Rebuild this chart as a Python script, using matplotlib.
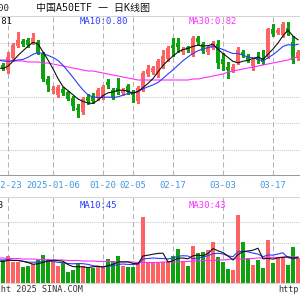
import matplotlib
matplotlib.use("Agg")
import matplotlib.pyplot as plt
import numpy as np
from matplotlib.patches import Rectangle
from matplotlib.transforms import blended_transform_factory, offset_copy

plt.rcParams['lines.scale_dashes'] = False

# trading-day index: 0 = 2024-12-23, 9 = 2025-01-06, ..., 58 = 2025-03-24
idx = list(range(-2, 59))

# prices in thousandths of yuan
open_ = [866, 878, 873, 885, 897, 902, 903, 900, 901, 889, 864, 853, 848, 854, 851, 845, 835, 831, 846, 847,
         845, 846, 861, 853, 855, 850, 857, 851, 842, 853, 869, 871, 868, 877, 884, 898, 900, 891, 896, 888,
         905, 899, 891, 895, 899, 884, 876, 872, 880, 891, 887, 877, 886, 884, 886, 914, 910, 908, 915, 901, 885]
close = [876, 875, 886, 898, 903, 899, 898, 905, 890, 864, 858, 854, 856, 850, 844, 837, 833, 844, 842, 842,
         853, 856, 858, 846, 851, 853, 851, 848, 855, 870, 874, 875, 882, 887, 895, 895, 896, 894, 893, 905,
         901, 892, 896, 900, 880, 879, 873, 876, 893, 888, 883, 883, 883, 881, 914, 909, 913, 919, 910, 883, 891]
high = [879, 880, 891, 900, 911, 904, 905, 910, 903, 891, 867, 857, 858, 856, 852, 847, 839, 846, 849, 850,
        855, 858, 864, 855, 865, 855, 859, 853, 857, 872, 878, 877, 884, 893, 897, 905, 905, 896, 897, 907,
        907, 901, 898, 902, 903, 890, 881, 879, 896, 893, 889, 885, 891, 893, 915, 919, 915, 921, 921, 907, 893]
low = [864, 873, 870, 883, 896, 897, 896, 899, 889, 862, 852, 850, 846, 848, 843, 833, 826, 829, 839, 840,
       843, 844, 855, 844, 849, 848, 849, 841, 840, 852, 867, 869, 866, 875, 882, 887, 891, 889, 891, 887,
       899, 890, 889, 894, 875, 873, 865, 871, 879, 886, 881, 873, 880, 879, 885, 907, 909, 906, 908, 880, 883]
# closes before the visible window (for the moving averages)
pre_close = [885, 889, 895, 893, 893, 877, 875, 873, 874]
ma30 = [883, 883, 883, 882, 882, 882, 881, 881, 881, 880, 880, 879, 878, 877, 876, 875, 874, 873, 872, 872,
        871, 870, 869, 868, 867, 866, 865, 864, 863, 863, 863, 863, 863, 863, 863, 863, 863, 863, 863, 864,
        864, 865, 866, 867, 868, 869, 871, 872, 873, 874, 875, 876, 877, 878, 879, 880, 881, 882, 883, 885, 886]

volume = [42, 46, 54, 42, 42, 32, 34, 38, 46, 56, 46, 42, 34, 40, 22, 26, 40, 34, 32, 30,
          32, 32, 48, 44, 54, 34, 32, 32, 40, 132, 42, 42, 40, 42, 44, 54, 68, 42, 34, 74,
          60, 62, 66, 82, 52, 42, 28, 26, 136, 82, 48, 36, 46, 30, 86, 40, 50, 50, 36, 72, 50]
pre_volume = [50, 48, 56, 44, 46, 52, 40, 44, 42]
vol_ma30 = [50, 50, 49, 49, 49, 48, 48, 48, 47, 47, 47, 46, 46, 46, 45, 45, 45, 44, 44, 44,
            43, 43, 43, 42, 42, 42, 42, 42, 41, 41, 41, 41, 41, 42, 42, 42, 42, 43, 43, 44,
            44, 45, 45, 45, 46, 46, 47, 48, 48, 48, 49, 49, 50, 50, 51, 51, 51, 52, 52, 52, 52]

tick_idx = [0, 9, 19, 25, 33, 43, 53]
tick_labels = ["2024-12-23", "2025-01-06", "01-20", "02-05", "02-17", "03-03", "03-17"]
price_grid = [0.900, 0.846, 0.820, 0.793]
vol_grid = [80, 122]

title = "中国A50ETF 一 日K线图"

# ---------------------------------------------------------------
o = np.array(open_) / 1000
c = np.array(close) / 1000
h = np.array(high) / 1000
l = np.array(low) / 1000
call = np.array(pre_close + close) / 1000
n = len(idx)

def rolling(arr, k):
    return np.array([arr[j - k + 1:j + 1].mean() for j in range(len(arr) - n, len(arr))])

ma5 = rolling(call, 5)
ma10 = rolling(call, 10)
vall = np.array(pre_volume + volume, dtype=float)
vma5 = rolling(vall, 5)
vma10 = rolling(vall, 10)

RED = '#ff6262'
GREEN = '#0ea20e'
BLUE = '#2a3cff'
MAG = '#ff2cff'
DATE = '#3d98e8'
MONO = ['DejaVu Sans Mono', 'Noto Sans CJK SC']

fig = plt.figure(figsize=(3, 3), dpi=100)
fig.patch.set_facecolor('white')

def fy(y):
    return 1 - y / 300.0

axp = fig.add_axes([0, fy(175), 1, (175 - 16) / 300.0])
axv = fig.add_axes([0, fy(283), 1, (283 - 197) / 300.0])
for a in (axp, axv):
    a.set_xlim(-1.6, 58.4)
    a.set_xticks([])
    a.set_yticks([])
    a.spines['left'].set_visible(False)
    a.spines['right'].set_visible(False)
    a.spines['top'].set_color('#d4d4d4')
    a.spines['top'].set_linewidth(0.75)
    a.set_facecolor('none')
axp.spines['bottom'].set_color('#9a9a9a')
axp.spines['bottom'].set_linewidth(0.75)
axv.spines['bottom'].set_color('#d4d4d4')
axv.spines['bottom'].set_linewidth(0.75)
axp.set_ylim(0.768, 0.927)
axv.set_ylim(0, 172)

for a in (axp, axv):
    for t in tick_idx:
        a.axvline(t, color='#b4b4b4', lw=0.75, ls=(0, (3.6, 2.2)), zorder=0)
for g in price_grid:
    axp.axhline(g, color='#c8c8c8', lw=0.75, ls=(0, (0.75, 0.75)), zorder=0)
for g in vol_grid:
    axv.axhline(g, color='#c8c8c8', lw=0.75, ls=(0, (0.75, 0.75)), zorder=0)

colors = [RED if ci >= oi else GREEN for oi, ci in zip(o, c)]
for i, oi, hi, li, ci, col in zip(idx, o, h, l, c, colors):
    axp.vlines(i, li, hi, color=col, lw=0.75, antialiased=False, zorder=2)
    bot = min(oi, ci)
    ht = max(abs(ci - oi), 0.0009)
    axp.add_patch(Rectangle((i - 0.4, bot), 0.8, ht, facecolor=col, edgecolor='none',
                            antialiased=False, zorder=3))

axp.plot(idx, np.array(ma30) / 1000, color=MAG, lw=0.8, zorder=4)
axp.plot(idx, ma10, color=BLUE, lw=0.8, zorder=5)
axp.plot(idx, ma5, color='#111111', lw=0.8, zorder=6)

axv.bar(idx, volume, width=0.8, color=colors, antialiased=False, zorder=2)
axv.plot(idx, vol_ma30, color=MAG, lw=0.8, zorder=4)
axv.plot(idx, vma10, color=BLUE, lw=0.8, zorder=5)
axv.plot(idx, vma5, color='#111111', lw=0.8, zorder=6)

# header texts
fig.text(9.5 / 300, fy(8.5), "1.00", ha='right', va='center', fontsize=6.6, family=MONO, color='#222222')
fig.text(92.5 / 300, fy(8.5), title, ha='center', va='center', fontsize=7.2, family=MONO, color='#111111')
fig.text(12.5 / 300, fy(22), "MA5:0.81", ha='right', va='center', fontsize=6.4, family=MONO, color='#111111')
fig.text(80 / 300, fy(22), "MA10:0.80", ha='left', va='center', fontsize=6.4, family=MONO, color=BLUE)
fig.text(189 / 300, fy(22), "MA30:0.82", ha='left', va='center', fontsize=6.4, family=MONO, color=MAG)

fig.text(3.5 / 300, fy(205), "MA5:43", ha='right', va='center', fontsize=6.4, family=MONO, color='#111111')
fig.text(80 / 300, fy(205), "MA10:45", ha='left', va='center', fontsize=6.4, family=MONO, color=BLUE)
fig.text(189 / 300, fy(205), "MA30:43", ha='left', va='center', fontsize=6.4, family=MONO, color=MAG)

# date labels
trans = blended_transform_factory(axp.transData, fig.transFigure)
for k, (t, lab) in enumerate(zip(tick_idx, tick_labels)):
    if k == 0:
        tr = offset_copy(trans, fig=fig, x=14, y=0, units='dots')
        axp.text(t, fy(185), lab, transform=tr, ha='right', va='center', fontsize=6.4,
                 family=MONO, color=DATE, clip_on=False)
    else:
        axp.text(t, fy(185), lab, transform=trans, ha='center', va='center', fontsize=6.4,
                 family=MONO, color=DATE, clip_on=False)

fig.text(83 / 300, fy(289), "Copyright 2025 SINA.COM", ha='right', va='center', fontsize=6.1,
         family=MONO, color='#333333')
fig.text(278 / 300, fy(289), "http://finance.sina.com.cn", ha='left', va='center', fontsize=6.1,
         family=MONO, color='#333333')

fig.savefig('out.png', dpi=100, facecolor='white')
